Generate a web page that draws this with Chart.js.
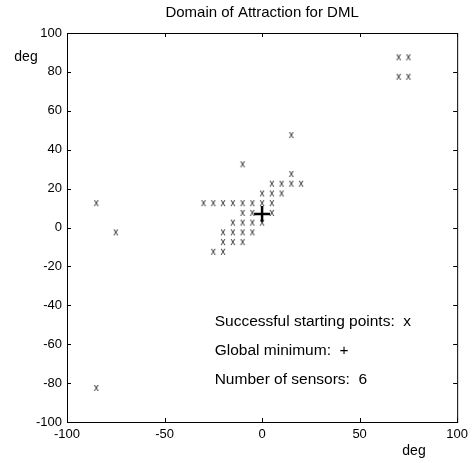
<!DOCTYPE html>
<html>
<head>
<meta charset="utf-8">
<title>Domain of Attraction for DML</title>
<style>
body { margin: 0; padding: 0; background: #fff; }
#wrap { width: 473px; height: 463px; }
</style>
<script src="https://cdn.jsdelivr.net/npm/chart.js@4.4.0/dist/chart.umd.min.js"></script>
</head>
<body>
<div id="wrap"><canvas id="c" width="473" height="463"></canvas></div>
<script>
// successful starting points (deg)
var startX = [15, -10, 15, 5, 10, 15, 20, 0, 5, 10,
  -30, -25, -20, -15, -10, -5, 0, 5,
  -10, -5, 5,
  -15, -10, -5, 0,
  -20, -15, -10, -5,
  -20, -15, -10,
  -25, -20,
  -85, -75, -85, 70, 75, 70, 75];
var startY = [47.5, 32.5, 27.5, 22.5, 22.5, 22.5, 22.5, 17.5, 17.5, 17.5,
  12.5, 12.5, 12.5, 12.5, 12.5, 12.5, 12.5, 12.5,
  7.5, 7.5, 7.5,
  2.5, 2.5, 2.5, 2.5,
  -2.5, -2.5, -2.5, -2.5,
  -7.5, -7.5, -7.5,
  -12.5, -12.5,
  12.5, -2.5, -82.5, 87.5, 87.5, 77.5, 77.5];
var minX = [0];
var minY = [7];
var ticks = [-100, -80, -60, -40, -20, 0, 20, 40, 60, 80, 100];
var xTicks = [-100, -50, 0, 50, 100];
var notes = ['Successful starting points:  x', 'Global minimum:  +', 'Number of sensors:  6'];
var noteY = [-48.5, -63.5, -78.5];

// "x" glyph used as marker
var mk = document.createElement('canvas');
mk.width = 10; mk.height = 10;
var mc = mk.getContext('2d');
mc.fillStyle = '#222';
mc.font = '10px "Liberation Sans", Arial, sans-serif';
mc.textAlign = 'center';
mc.textBaseline = 'middle';
mc.fillText('x', 5, 5);

var font = '"Liberation Sans", Arial, sans-serif';

var frame = {
  id: 'frame',
  afterDraw: function(chart) {
    var ctx = chart.ctx, a = chart.chartArea;
    var xs = chart.scales.x, ys = chart.scales.y;
    ctx.save();
    ctx.strokeStyle = '#000';
    ctx.lineWidth = 1;
    ctx.strokeRect(a.left + 0.5, a.top + 0.5, a.right - a.left, a.bottom - a.top);
    ctx.beginPath();
    xTicks.forEach(function(v) {
      var p = Math.round(xs.getPixelForValue(v)) + 0.5;
      ctx.moveTo(p, a.bottom); ctx.lineTo(p, a.bottom - 4);
      ctx.moveTo(p, a.top); ctx.lineTo(p, a.top + 4);
    });
    ticks.forEach(function(v) {
      var p = Math.round(ys.getPixelForValue(v)) + 0.5;
      ctx.moveTo(a.left, p); ctx.lineTo(a.left + 4, p);
      ctx.moveTo(a.right, p); ctx.lineTo(a.right - 4, p);
    });
    ctx.stroke();
    ctx.fillStyle = '#000';
    ctx.font = '15px ' + font;
    ctx.textAlign = 'center';
    ctx.textBaseline = 'middle';
    ctx.fillText('Domain of Attraction for DML', (a.left + a.right) / 2, 13);
    ctx.font = '14px ' + font;
    ctx.fillText('deg', 26, 57);
    ctx.fillText('deg', 414, 451);
    ctx.font = '15.5px ' + font;
    ctx.textAlign = 'left';
    notes.forEach(function(t, i) {
      ctx.fillText(t, xs.getPixelForValue(-24.3), ys.getPixelForValue(noteY[i]));
    });
    ctx.restore();
  }
};

new Chart(document.getElementById('c'), {
  type: 'scatter',
  data: {
    datasets: [{
      data: startX.map(function(x, i) { return {x: x, y: startY[i]}; }),
      pointStyle: mk,
      pointRadius: 5
    }, {
      data: minX.map(function(x, i) { return {x: x, y: minY[i]}; }),
      pointStyle: 'cross',
      pointRadius: 8,
      borderColor: '#000',
      borderWidth: 2.5
    }]
  },
  options: {
    responsive: false,
    animation: false,
    layout: { padding: { left: 0, right: 15, top: 33, bottom: 0 } },
    plugins: { legend: { display: false }, tooltip: { enabled: false } },
    scales: {
      x: {
        type: 'linear', min: -100, max: 100,
        afterBuildTicks: function(s) { s.ticks = xTicks.map(function(v) { return {value: v}; }); },
        afterFit: function(s) { s.height = 41; },
        grid: { display: false, drawTicks: false },
        border: { display: false },
        ticks: { color: '#000', padding: 5, maxRotation: 0, font: { size: 13, family: font } }
      },
      y: {
        type: 'linear', min: -100, max: 100,
        afterBuildTicks: function(s) { s.ticks = ticks.map(function(v) { return {value: v}; }); },
        afterFit: function(s) { s.width = 67; },
        grid: { display: false, drawTicks: false },
        border: { display: false },
        ticks: { color: '#000', padding: 5, font: { size: 13, family: font } }
      }
    }
  },
  plugins: [frame]
});
</script>
</body>
</html>
